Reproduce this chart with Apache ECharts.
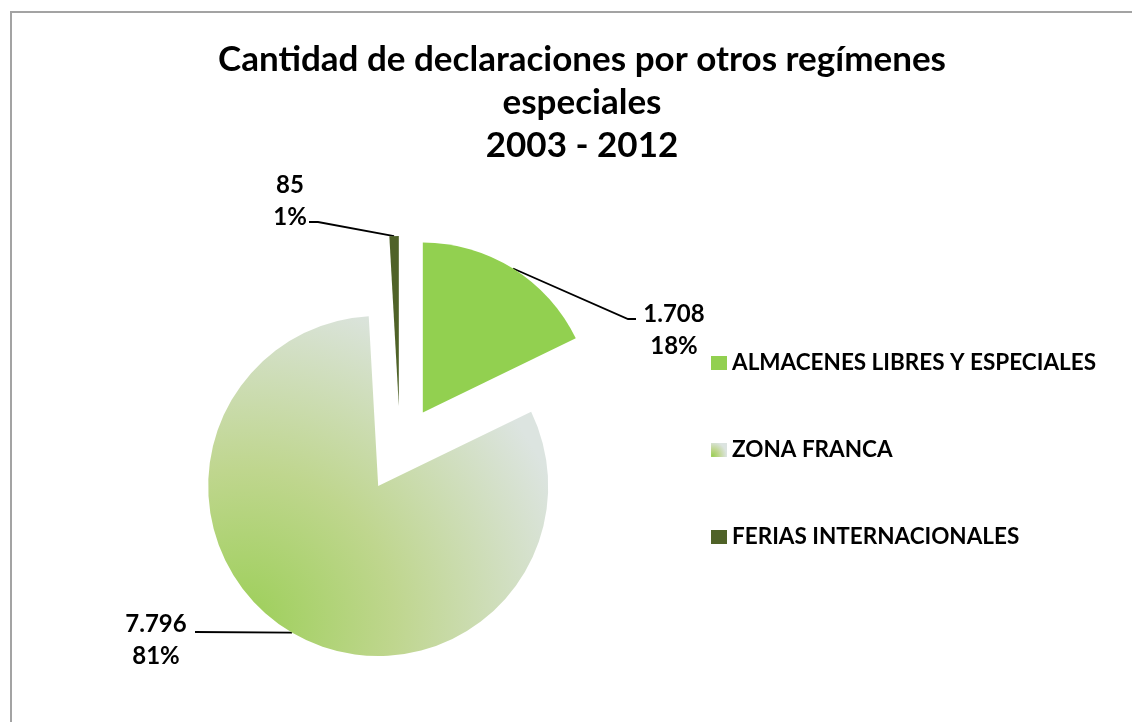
<!DOCTYPE html>
<html>
<head>
<meta charset="utf-8">
<title>Cantidad de declaraciones por otros regímenes especiales</title>
<script src="https://cdn.jsdelivr.net/npm/echarts@6/dist/echarts.min.js"></script>
<style>
  html, body { margin: 0; padding: 0; background: #fff; overflow: hidden; }
  .frame {
    position: absolute; left: 10px; top: 11px;
    width: 1300px; height: 900px;
    border: 2px solid #a3a3a3;
  }
  #chart { position: absolute; left: 0; top: 0; width: 1132px; height: 722px; }
</style>
</head>
<body>
<div class="frame"></div>
<div id="chart"></div>
<script>
// datos
const categories = ['ALMACENES LIBRES Y ESPECIALES', 'ZONA FRANCA', 'FERIAS INTERNACIONALES']
const values = [1708, 7796, 85]

// colores de cada porción
const colors = [
  '#92d050',
  new echarts.graphic.RadialGradient(0.1, 0.9, 1, [
    { offset: 0, color: '#9ccf58' },
    { offset: 0.45, color: '#bfd68e' },
    { offset: 1, color: '#dce4e0' }
  ]),
  '#4f6228'
]

// posición de etiquetas y sus líneas
const labelSpots = [
  { x: 674, y: 330, line: [[628, 319], [636, 319]] },
  { x: 156, y: 640, line: [[195, 632]] },
  { x: 290, y: 201, line: [[318, 222], [309, 222]] }
]

const baseCenter = [400, 449]
const radius = 170
const explode = 43

const fmt = (v) => String(v).replace(/\B(?=(\d{3})+(?!\d))/g, '.')

const total = values.reduce((a, b) => a + b, 0)

// una serie por porción para poder separarlas
const series = []
let acc = 0
values.forEach((v, k) => {
  const mid = ((acc + v / 2) / total) * 2 * Math.PI
  acc += v
  const cx = baseCenter[0] + explode * Math.sin(mid)
  const cy = baseCenter[1] - explode * Math.cos(mid)
  series.push({
    type: 'pie',
    name: categories[k],
    center: [cx, cy],
    radius: radius,
    startAngle: 90,
    clockwise: true,
    silent: true,
    avoidLabelOverlap: false,
    label: {
      position: 'outside',
      color: '#000',
      fontFamily: 'Lato',
      fontWeight: 'bold',
      fontSize: 24,
      lineHeight: 32,
      formatter: (p) => fmt(p.value) + '\n' + Math.round(p.percent) + '%'
    },
    labelLine: { show: true, length: 20, length2: 10, lineStyle: { color: '#000', width: 1.8 } },
    labelLayout: (p) => {
      const s = labelSpots[k]
      const start = p.labelLinePoints ? p.labelLinePoints[0] : s.line[0]
      return {
        x: s.x,
        y: s.y,
        align: 'center',
        verticalAlign: 'middle',
        labelLinePoints: [start].concat(s.line)
      }
    },
    data: values.map((val, i) => i === k
      ? { name: categories[i], value: val, itemStyle: { color: colors[i] } }
      : {
          name: categories[i], value: val,
          itemStyle: { color: 'rgba(0,0,0,0)' },
          label: { show: false }, labelLine: { show: false }
        })
  })
})

const chart = echarts.init(document.getElementById('chart'))
chart.setOption({
  animation: false,
  title: {
    text: 'Cantidad de declaraciones por otros regímenes\nespeciales\n2003 - 2012',
    left: 577,
    textAlign: 'center',
    top: 33,
    textStyle: {
      fontFamily: 'Lato',
      fontWeight: 'bold',
      fontSize: 35,
      lineHeight: 43,
      color: '#000'
    }
  },
  legend: {
    orient: 'vertical',
    left: 706,
    top: 346,
    icon: 'rect',
    itemWidth: 16,
    itemHeight: 14,
    itemGap: 63,
    selectedMode: false,
    textStyle: { fontFamily: 'Lato', fontWeight: 'bold', fontSize: 22.5, lineHeight: 24, color: '#000' },
    data: categories.map((c, i) => ({ name: c, itemStyle: { color: colors[i] } }))
  },
  series: series
})
</script>
</body>
</html>
